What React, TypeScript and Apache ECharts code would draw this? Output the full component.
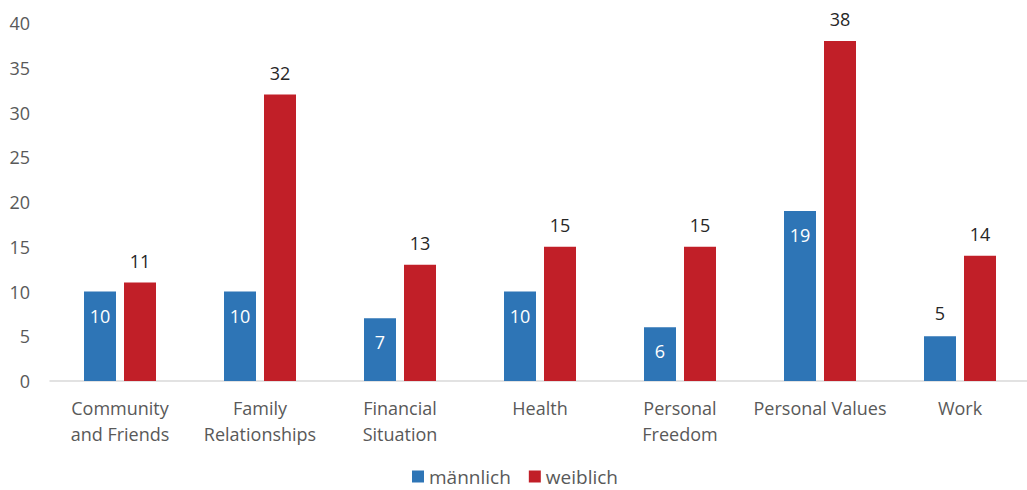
import React, { useEffect, useRef } from "react";
import * as echarts from "echarts";

const categories = [
  "Community\nand Friends",
  "Family\nRelationships",
  "Financial\nSituation",
  "Health",
  "Personal\nFreedom",
  "Personal Values",
  "Work",
];
const maleValues = [10, 10, 7, 10, 6, 19, 5];
const femaleValues = [11, 32, 13, 15, 15, 38, 14];
const seriesNames = ["männlich", "weiblich"];

const FONT = "'Open Sans', 'Noto Sans', sans-serif";

export default function App() {
  const ref = useRef<HTMLDivElement>(null);
  useEffect(() => {
    if (!ref.current) return;
    const chart = echarts.init(ref.current, undefined, { renderer: "svg" });
    chart.setOption({
      animation: false,
      textStyle: { fontFamily: FONT },
      grid: { left: 50, right: -3, top: 23, bottom: 109, containLabel: false },
      legend: {
        top: 467,
        left: "center",
        padding: 0,
        itemWidth: 12,
        itemHeight: 12,
        itemGap: 18,
        icon: "rect",
        textStyle: { fontSize: 19, lineHeight: 19, color: "#595959", fontFamily: FONT },
        data: seriesNames,
      },
      xAxis: {
        type: "category",
        data: categories,
        axisLine: { lineStyle: { color: "#d9d9d9", width: 1.5 } },
        axisTick: { show: false },
        axisLabel: {
          color: "#595959",
          fontSize: 18,
          lineHeight: 26,
          margin: 14,
          interval: 0,
          fontFamily: FONT,
        },
      },
      yAxis: {
        type: "value",
        min: 0,
        max: 40,
        interval: 5,
        splitLine: { show: false },
        axisLine: { show: false },
        axisTick: { show: false },
        axisLabel: { color: "#595959", fontSize: 18, margin: 20, fontFamily: FONT },
      },
      series: [
        {
          name: seriesNames[0],
          type: "bar",
          data: maleValues.map((v) =>
            v === 5
              ? { value: v, label: { position: "top", color: "#262626", distance: 14 } }
              : v
          ),
          barWidth: 32,
          barGap: "25%",
          itemStyle: { color: "#2e75b6" },
          label: {
            show: true,
            position: "insideTop",
            distance: 15,
            color: "#ffffff",
            fontSize: 18,
            fontFamily: FONT,
          },
        },
        {
          name: seriesNames[1],
          type: "bar",
          data: femaleValues,
          barWidth: 32,
          itemStyle: { color: "#c11f28" },
          label: {
            show: true,
            position: "top",
            distance: 13,
            color: "#262626",
            fontSize: 18,
            fontFamily: FONT,
          },
        },
      ],
    });
    return () => chart.dispose();
  }, []);
  return <div ref={ref} style={{ width: 1030, height: 490, position: "absolute", left: 0, top: 0 }} />;
}
